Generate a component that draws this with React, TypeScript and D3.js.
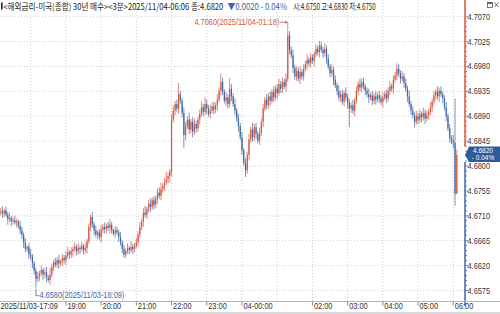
import React from "react";
import * as d3 from "d3";

// ---- data ----
const startTime = new Date(2025, 10, 3, 17, 9);
const endTime = new Date(2025, 10, 4, 6, 6);
const stepMinutes = 3;
const priceBase = 4.6;
const priceUnit = 0.0001;
const firstOpen = 716;

const closes = [
  718, 714, 720, 712, 704, 706, 700, 702, 698, 700, 692, 684, 676, 662, 650, 654, 640, 636, 624, 610,
  596, 600, 606, 612, 604, 608, 598, 594, 604, 618, 626, 622, 630, 624, 628, 634, 630, 638, 644, 640,
  646, 650, 654, 646, 652, 650, 656, 648, 652, 664, 690, 708, 694, 684, 676, 680, 672, 684, 690, 686,
  692, 688, 694, 684, 678, 684, 680, 672, 662, 650, 640, 646, 652, 648, 654, 650, 656, 662, 676, 690,
  700, 716, 712, 722, 732, 726, 738, 730, 742, 752, 746, 758, 764, 770, 776, 782, 790, 884, 900, 912,
  904, 930, 918, 896, 856, 872, 884, 866, 880, 862, 876, 868, 884, 894, 906, 898, 912, 904, 894, 900,
  908, 902, 910, 920, 936, 952, 934, 918, 924, 912, 940, 926, 912, 900, 886, 872, 852, 828, 806, 792,
  820, 848, 866, 852, 870, 858, 846, 860, 880, 904, 920, 910, 926, 918, 934, 924, 940, 932, 948, 940,
  952, 944, 958, 1036, 1010, 1000, 978, 962, 972, 958, 970, 962, 976, 984, 992, 986, 996, 990, 1002, 1012,
  1006, 1018, 1010, 1004, 1012, 994, 980, 968, 974, 956, 946, 936, 924, 930, 916, 932, 924, 914, 904, 910,
  900, 918, 936, 948, 942, 952, 944, 936, 930, 924, 928, 918, 926, 920, 928, 922, 916, 924, 930, 922,
  936, 944, 940, 956, 964, 976, 968, 958, 962, 950, 940, 926, 912, 900, 892, 880, 890, 884, 894, 888,
  896, 886, 892, 898, 906, 916, 928, 934, 926, 936, 930, 922, 906, 890, 868, 850, 846, 842, 750, 820,
];

const wickUp = [
  6, 9, 3, 7, 5, 10, 4, 6, 8, 5, 3, 9, 6, 4, 8, 3, 7, 10, 5, 4,
  6, 9, 5, 8, 4, 7, 10, 5, 12, 6, 4, 8, 5, 9, 3, 7, 5, 8, 10, 4,
  7, 5, 8, 4, 9, 5, 7, 3, 8, 5, 6, 4, 9, 5, 8, 4, 6, 10, 5, 8,
  4, 7, 10, 5, 3, 8, 6, 5, 9, 4, 7, 5, 8, 3, 10, 6, 5, 8, 6, 9,
  5, 8, 12, 4, 7, 10, 5, 8, 4, 7, 10, 12, 5, 8, 14, 6, 5, 10, 9, 6,
  8, 20, 6, 5, 10, 8, 6, 12, 5, 8, 10, 6, 5, 8, 11, 6, 13, 8, 6, 10,
  7, 8, 5, 10, 6, 16, 8, 5, 10, 6, 19, 8, 6, 10, 5, 8, 6, 10, 5, 8,
  6, 10, 5, 12, 6, 8, 5, 10, 6, 8, 5, 10, 6, 8, 5, 10, 6, 8, 10, 6,
  8, 5, 10, 24, 8, 6, 10, 5, 8, 6, 10, 5, 8, 6, 10, 5, 8, 6, 5, 8,
  6, 8, 7, 5, 10, 6, 8, 5, 10, 6, 8, 5, 10, 6, 8, 5, 10, 6, 8, 5,
  10, 6, 8, 5, 10, 6, 8, 5, 6, 10, 5, 8, 6, 10, 5, 8, 6, 10, 5, 8,
  6, 10, 5, 8, 6, 10, 8, 5, 10, 6, 8, 5, 10, 6, 8, 5, 10, 6, 8, 5,
  10, 6, 8, 5, 10, 6, 8, 5, 10, 6, 8, 5, 6, 10, 5, 8, 6, 10, 80, 10,
];

const wickDn = [
  5, 8, 6, 4, 10, 5, 8, 6, 4, 9, 5, 7, 8, 10, 6, 5, 8, 6, 9, 6,
  16, 6, 8, 5, 10, 6, 8, 4, 9, 6, 8, 5, 6, 10, 5, 8, 6, 9, 5, 8,
  6, 10, 5, 8, 6, 9, 5, 8, 6, 10, 5, 8, 6, 9, 5, 8, 6, 10, 5, 8,
  8, 5, 10, 6, 4, 8, 5, 9, 6, 8, 6, 6, 5, 8, 4, 9, 6, 5, 8, 6,
  6, 10, 5, 8, 6, 9, 5, 8, 6, 10, 5, 8, 6, 9, 5, 8, 12, 9, 5, 8,
  6, 10, 5, 8, 24, 9, 5, 8, 6, 10, 5, 8, 6, 9, 5, 8, 6, 10, 5, 8,
  5, 8, 6, 10, 4, 8, 6, 5, 10, 8, 6, 9, 5, 8, 6, 10, 5, 8, 6, 12,
  6, 10, 5, 8, 6, 9, 5, 8, 6, 10, 5, 8, 6, 9, 5, 8, 6, 10, 5, 8,
  8, 5, 10, 6, 8, 5, 10, 6, 8, 5, 10, 6, 8, 5, 10, 6, 8, 5, 10, 6,
  6, 10, 5, 8, 6, 9, 5, 8, 6, 10, 5, 8, 6, 9, 5, 8, 6, 10, 34, 8,
  6, 10, 5, 8, 6, 9, 5, 8, 6, 10, 5, 8, 6, 9, 5, 8, 6, 10, 5, 8,
  5, 8, 6, 10, 5, 8, 6, 9, 5, 8, 6, 10, 5, 8, 6, 10, 5, 8, 6, 9,
  6, 10, 5, 8, 6, 9, 5, 8, 6, 10, 5, 8, 6, 9, 5, 8, 6, 10, 22, 0,
];

const yTicks = [4.6575, 4.662, 4.6665, 4.671, 4.6755, 4.68, 4.6845, 4.689, 4.6935, 4.698, 4.7025, 4.707];
const unlabeledHours = [18, 1];

const titleName = "<해외금리-미국(종합) 30년 매수><3분>";
const lastClose = 4.682;
const changeAbs = 0.002;
const changePct = -0.04;
const sessOpen = 4.675;
const sessHigh = 4.683;
const sessLow = 4.675;

// ---- styles ----
const RED = "#d4553d";
const BLUE = "#3f66a3";
const TAGBLUE = "#2d5b9e";
const GRID = "#cfcfcf";
const TXT = "#333";

const f4 = d3.format(".4f");

type NTProps = { x: number; y: number; children: any; fill?: string; anchor?: string; size?: number; sx?: number };
function NT({ x, y, children, fill = TXT, anchor = "start", size = 8.5, sx = 0.87 }: NTProps) {
  return (
    <g transform={`translate(${x},${y}) scale(${sx},1)`}>
      <text x={0} y={0} fontSize={size} fill={fill} textAnchor={anchor as any}>
        {children}
      </text>
    </g>
  );
}

type TTProps = { x: number; width: number; children: any; fill: string };
function TitleText({ x, width, children, fill }: TTProps) {
  const sx = 0.75;
  return (
    <g transform={`translate(${x},9.5) scale(${sx},1)`}>
      <text
        x={0}
        y={0}
        fontSize={9}
        fontFamily="'Noto Sans CJK KR', sans-serif"
        fill={fill}
        textLength={width / sx}
        lengthAdjust="spacingAndGlyphs"
      >
        {children}
      </text>
    </g>
  );
}

export default function App() {
  const x = d3.scaleTime().domain([startTime, endTime]).range([0.75, 456.8]);
  const y = d3.scaleLinear().domain([4.6575, 4.707]).range([290.5, 16.7]);
  const axisX = 465;
  const plotBottom = 301;

  const candles = closes.map((c, i) => {
    const o = i === 0 ? firstOpen : closes[i - 1];
    const hi = Math.max(o, c) + wickUp[i];
    const lo = Math.min(o, c) - wickDn[i];
    return {
      t: d3.timeMinute.offset(startTime, i * stepMinutes),
      o: priceBase + o * priceUnit,
      c: priceBase + c * priceUnit,
      h: priceBase + hi * priceUnit,
      l: priceBase + lo * priceUnit,
    };
  });

  const maxC = candles.reduce((a, b) => (b.h > a.h ? b : a));
  const minC = candles.reduce((a, b) => (b.l < a.l ? b : a));
  const annFmt = d3.timeFormat("%Y/%m/%d-%H:%M");

  const hours = d3.timeHour.range(d3.timeHour.ceil(startTime), endTime);
  const hourFmt = (d: Date) => (d.getHours() === 0 ? d3.timeFormat("%d-%H:%M")(d) : d3.timeFormat("%H:%M")(d));

  const tagTop = 146.5;
  const tagBot = 162;
  const yTag = y(lastClose);

  const minor: number[] = [];
  for (let k = 0; k < yTicks.length - 1; k++) {
    const a = yTicks[k], b = yTicks[k + 1];
    for (let j = 1; j < 5; j++) minor.push(a + ((b - a) * j) / 5);
  }
  const axisColor = (py: number) => (py < yTag ? RED : BLUE);

  const bw = 1.2;

  return (
    <div style={{ position: "fixed", left: 0, top: 0, width: 500, height: 314, background: "#fff" }}>
      <svg width={500} height={314} style={{ display: "block" }} fontFamily="'Liberation Sans', Arial, sans-serif">
        <rect x={0} y={0} width={500} height={314} fill="#fff" />
        {/* grid */}
        {yTicks.map((t) => (
          <line key={"gy" + t} x1={0} x2={axisX} y1={y(t)} y2={y(t)} stroke={GRID} strokeWidth={1} strokeDasharray="1,2" />
        ))}
        {hours.map((h) => (
          <line key={"gx" + +h} x1={x(h)} x2={x(h)} y1={0} y2={plotBottom} stroke={GRID} strokeWidth={1} strokeDasharray="1,2" />
        ))}

        {/* candles */}
        {candles.map((d, i) => {
          const up = d.c > d.o;
          const col = up ? RED : BLUE;
          const cx = x(d.t);
          const yt = y(Math.max(d.o, d.c));
          const yb = y(Math.min(d.o, d.c));
          return (
            <g key={i}>
              <line x1={cx} x2={cx} y1={y(d.h)} y2={y(d.l)} stroke={col} strokeWidth={0.7} />
              <rect x={cx - bw / 2} y={yt} width={bw} height={Math.max(0.8, yb - yt)} fill={col} />
            </g>
          );
        })}

        {/* max annotation */}
        <g>
          <line x1={x(maxC.t) - 8} x2={x(maxC.t) - 1} y1={y(maxC.h)} y2={y(maxC.h)} stroke={RED} strokeWidth={0.8} />
          <polygon
            points={`${x(maxC.t)},${y(maxC.h)} ${x(maxC.t) - 2.5},${y(maxC.h) - 1.5} ${x(maxC.t) - 2.5},${y(maxC.h) + 1.5}`}
            fill={RED}
          />
          <NT x={x(maxC.t) - 8.5} y={y(maxC.h) + 3} fill={RED} anchor="end">
            {`${f4(maxC.h)}(${annFmt(maxC.t)})`}
          </NT>
        </g>
        {/* min annotation */}
        <g>
          <path
            d={`M${x(minC.t)},${y(minC.l) + 1} V${y(minC.l) + 8} H${x(minC.t) + 3.5}`}
            fill="none"
            stroke={BLUE}
            strokeWidth={0.8}
          />
          <NT x={x(minC.t) + 3.5} y={y(minC.l) + 10} fill={BLUE}>
            {`${f4(minC.l)}(${annFmt(minC.t)})`}
          </NT>
        </g>

        {/* right axis */}
        <line x1={axisX} x2={axisX} y1={0} y2={tagTop} stroke={RED} strokeWidth={1.5} />
        <line x1={axisX} x2={axisX} y1={tagBot} y2={306} stroke={BLUE} strokeWidth={1.5} />
        {minor.map((m) => (
          <line key={"mt" + m} x1={axisX} x2={axisX + 2} y1={y(m)} y2={y(m)} stroke={axisColor(y(m))} strokeWidth={0.8} />
        ))}
        {yTicks.map((t) => (
          <g key={"yl" + t}>
            <line x1={axisX} x2={axisX + 3} y1={y(t)} y2={y(t)} stroke={axisColor(y(t))} strokeWidth={0.8} />
            {Math.abs(y(t) - yTag) > 8 && <NT x={axisX + 2.5} y={y(t) + 3}>{f4(t)}</NT>}
          </g>
        ))}

        {/* price tag */}
        <polygon
          points={`${axisX},${yTag} ${axisX + 4},${tagTop} 500,${tagTop} 500,${tagBot} ${axisX + 4},${tagBot}`}
          fill={TAGBLUE}
        />
        <NT x={483} y={153.3} fill="#fff" anchor="middle" size={7.5}>{f4(lastClose)}</NT>
        <NT x={483} y={160.3} fill="#fff" anchor="middle" size={7.5}>{`- ${Math.abs(changePct).toFixed(2)}%`}</NT>

        {/* x axis */}
        <line x1={0} x2={500} y1={plotBottom + 0.5} y2={plotBottom + 0.5} stroke="#b5b5b5" strokeWidth={1} />
        <line x1={0} x2={500} y1={313} y2={313} stroke="#b5b5b5" strokeWidth={1} />
        <NT x={0.5} y={308.7}>{annFmt(startTime)}</NT>
        {hours
          .filter((h) => !unlabeledHours.includes(h.getHours()))
          .map((h) => (
            <g key={"xl" + +h}>
              <line x1={x(h)} x2={x(h)} y1={plotBottom + 1} y2={plotBottom + 4.5} stroke="#666" strokeWidth={0.8} />
              <NT x={x(h) + 1.5} y={308.7}>{hourFmt(h)}</NT>
            </g>
          ))}

        {/* title */}
        <rect x={1} y={2.5} width={1.6} height={7} fill="#222" />
        <TitleText x={3.3} width={220} fill="#222">{`${titleName}${annFmt(endTime)} 종:${f4(lastClose)}`}</TitleText>
        <TitleText x={227.5} width={59.5} fill={BLUE}>{`▼${f4(changeAbs)}  - ${Math.abs(changePct).toFixed(2)}%`}</TitleText>
        <TitleText x={293.3} width={82.5} fill="#222">{`시:${f4(sessOpen)} 고:${f4(sessHigh)} 저:${f4(sessLow)}`}</TitleText>

        {/* window icons */}
        <rect x={487.5} y={2.5} width={5} height={5} fill="#fff" stroke="#555" strokeWidth={0.8} />
        <line x1={487.5} x2={492.5} y1={3.3} y2={3.3} stroke="#555" strokeWidth={1.2} />
        <path d="M494.5,2.5 L498.5,7 M498.5,2.5 L494.5,7" stroke="#555" strokeWidth={0.9} />
      </svg>
    </div>
  );
}
